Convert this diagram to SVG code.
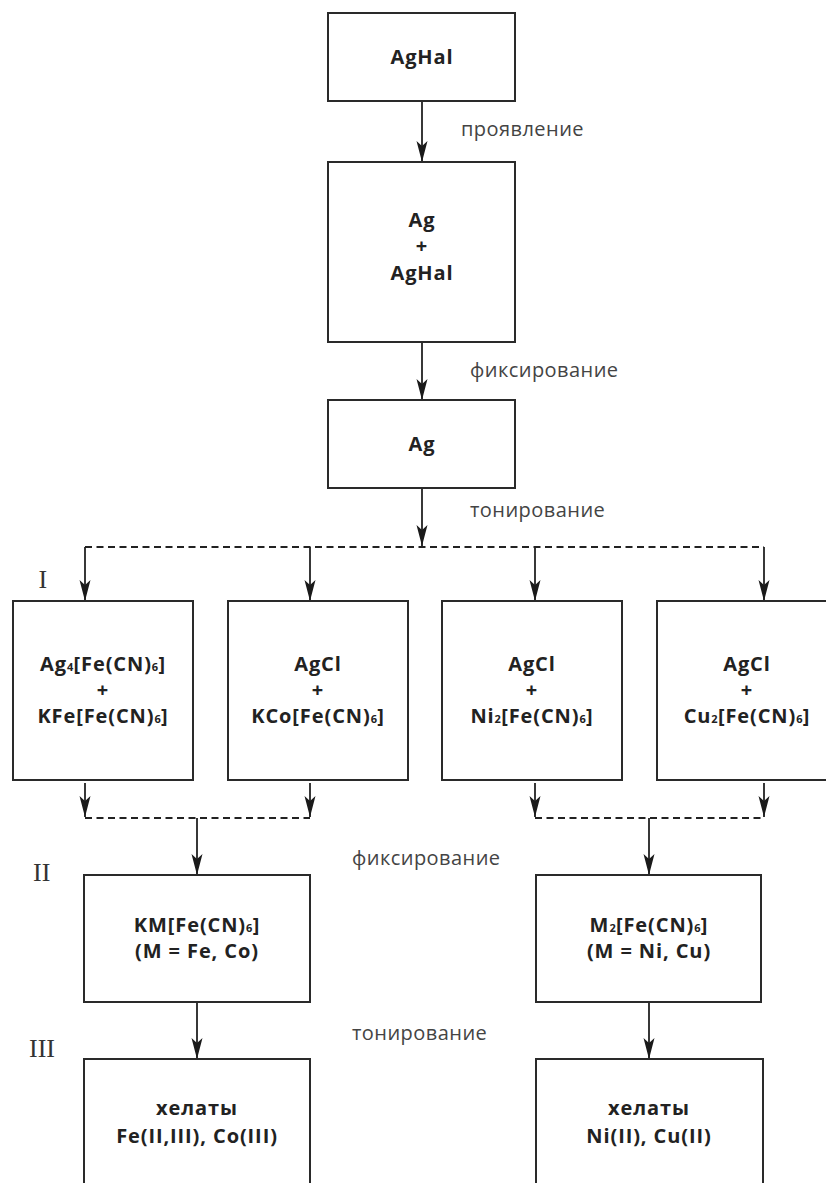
<svg xmlns="http://www.w3.org/2000/svg" width="826" height="1183" viewBox="0 0 826 1183">
<style>
.box{fill:#fff;stroke:#2a2a2a;stroke-width:2}
.t{font-family:"Open Sans","DejaVu Sans",sans-serif;font-weight:bold;font-size:20px;fill:#222;text-anchor:middle;letter-spacing:0.9px}
.s{font-size:11px;letter-spacing:0.3px}
.lbl{font-family:"Open Sans","DejaVu Sans",sans-serif;font-size:20px;fill:#444;letter-spacing:0.45px}
.rn{font-family:"Liberation Serif","DejaVu Serif",serif;font-size:26px;fill:#333}
.ar{stroke:#222;stroke-width:1.8;fill:none;marker-end:url(#ah)}
.ds{stroke:#222;stroke-width:2.2;fill:none;stroke-dasharray:7 4.5}
</style>
<defs>
<marker id="ah" markerUnits="userSpaceOnUse" markerWidth="24" markerHeight="14" viewBox="-22 -7 24 14" refX="0" refY="0" orient="auto">
<path d="M0,0 L-21,-5.5 L-16,0 L-21,5.5 Z" fill="#1a1a1a"/>
</marker>
</defs>
<g id="connectors">
<path class="ar" d="M422,102 V162"/>
<path class="ar" d="M422,343 V400"/>
<path class="ar" d="M422,489 V546"/>
<path class="ds" d="M85,547 H764"/>
<path class="ar" d="M85,547 V601"/>
<path class="ar" d="M310,547 V601"/>
<path class="ar" d="M535,547 V601"/>
<path class="ar" d="M764,547 V601"/>
<path class="ar" d="M85,783 V817"/>
<path class="ar" d="M310,783 V817"/>
<path class="ar" d="M535,783 V817"/>
<path class="ar" d="M764,783 V817"/>
<path class="ds" d="M85,818 H310"/>
<path class="ds" d="M535,818 H764"/>
<path class="ar" d="M197,818 V875"/>
<path class="ar" d="M649,818 V875"/>
<path class="ar" d="M197,1003 V1059"/>
<path class="ar" d="M649,1003 V1059"/>
</g>
<g id="labels">
<text class="lbl" x="461" y="136">проявление</text>
<text class="lbl" x="470" y="377">фиксирование</text>
<text class="lbl" x="470" y="517">тонирование</text>
<text class="lbl" x="352" y="865">фиксирование</text>
<text class="lbl" x="352" y="1040">тонирование</text>
<text class="rn" x="38.5" y="588">I</text>
<text class="rn" x="33" y="881">II</text>
<text class="rn" x="29" y="1057">III</text>
</g>
<g id="n-aghal">
<rect class="box" x="328" y="13" width="187" height="88"/>
<text class="t" x="422" y="64">AgHal</text>
</g>
<g id="n-ag-aghal">
<rect class="box" x="328" y="162" width="187" height="180"/>
<text class="t" x="422" y="227">Ag</text>
<text class="t" x="422" y="253">+</text>
<text class="t" x="422" y="280">AgHal</text>
</g>
<g id="n-ag">
<rect class="box" x="328" y="400" width="187" height="88"/>
<text class="t" x="422" y="451">Ag</text>
</g>
<g id="n-fe">
<rect class="box" x="13" y="601" width="180" height="179"/>
<text class="t" x="103" y="671">Ag<tspan class="s">4</tspan>[Fe(CN)<tspan class="s">6</tspan>]</text>
<text class="t" x="103" y="697">+</text>
<text class="t" x="103" y="723">KFe[Fe(CN)<tspan class="s">6</tspan>]</text>
</g>
<g id="n-co">
<rect class="box" x="228" y="601" width="180" height="179"/>
<text class="t" x="318" y="671">AgCl</text>
<text class="t" x="318" y="697">+</text>
<text class="t" x="318" y="723">KCo[Fe(CN)<tspan class="s">6</tspan>]</text>
</g>
<g id="n-ni">
<rect class="box" x="442" y="601" width="180" height="179"/>
<text class="t" x="532" y="671">AgCl</text>
<text class="t" x="532" y="697">+</text>
<text class="t" x="532" y="723">Ni<tspan class="s">2</tspan>[Fe(CN)<tspan class="s">6</tspan>]</text>
</g>
<g id="n-cu">
<rect class="box" x="657" y="601" width="180" height="179"/>
<text class="t" x="747" y="671">AgCl</text>
<text class="t" x="747" y="697">+</text>
<text class="t" x="747" y="723">Cu<tspan class="s">2</tspan>[Fe(CN)<tspan class="s">6</tspan>]</text>
</g>
<g id="n-km">
<rect class="box" x="84" y="875" width="226" height="127"/>
<text class="t" x="197" y="932">KM[Fe(CN)<tspan class="s">6</tspan>]</text>
<text class="t" x="197" y="958">(M = Fe, Co)</text>
</g>
<g id="n-m2">
<rect class="box" x="536" y="875" width="225" height="127"/>
<text class="t" x="649" y="932">M<tspan class="s">2</tspan>[Fe(CN)<tspan class="s">6</tspan>]</text>
<text class="t" x="649" y="958">(M = Ni, Cu)</text>
</g>
<g id="n-chel1">
<path class="box" d="M84,1190 V1059 H310 V1190"/>
<text class="t" x="197" y="1115">хелаты</text>
<text class="t" x="197" y="1143">Fe(II,III), Co(III)</text>
</g>
<g id="n-chel2">
<path class="box" d="M536,1190 V1059 H763 V1190"/>
<text class="t" x="649" y="1115">хелаты</text>
<text class="t" x="649" y="1143">Ni(II), Cu(II)</text>
</g>
</svg>
